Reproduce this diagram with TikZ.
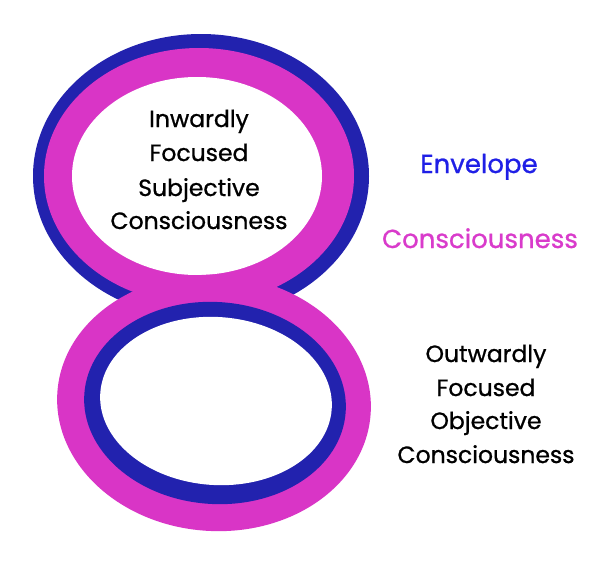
\documentclass[tikz,border=0pt]{standalone}
\usepackage{fontspec}
\setmainfont{Poppins}
\newfontfamily\medfont[FakeBold=0.9]{Poppins}
\definecolor{ringblue}{HTML}{2222AE}
\definecolor{ringmag}{HTML}{D935C6}
\definecolor{txtblue}{HTML}{1F1FE6}
\definecolor{txtmag}{HTML}{D93BCB}
\tikzset{
  lbl/.style={anchor=base, inner sep=0pt, font=\medfont\fontsize{23.5}{28}\selectfont, text=black},
  keyblue/.style={anchor=base, inner sep=0pt, font=\medfont\fontsize{26}{30}\selectfont, text=txtblue},
  keymag/.style={anchor=base, inner sep=0pt, font=\medfont\fontsize{26}{30}\selectfont, text=txtmag}
}
\begin{document}
\begin{tikzpicture}[x=1pt,y=-1pt]
\fill[white] (0,0) rectangle (600,568);
\useasboundingbox (0,0) rectangle (600,568);
% top ring
\fill[ringblue] (201,176) ellipse [x radius=168, y radius=142];
\fill[ringmag] (199,176) ellipse [x radius=155, y radius=128];
\fill[white] (197,176) ellipse [x radius=125, y radius=99];
% bottom ring
\fill[ringmag, rotate around={-4:(214,403)}] (214,403) ellipse [x radius=157, y radius=128];
\fill[ringblue, rotate around={-4:(215,403)}] (215,403) ellipse [x radius=131, y radius=101];
\fill[white, rotate around={-4:(216,401)}] (216,401) ellipse [x radius=116, y radius=84];
% inner text
\node[lbl] (i1) at (199,127) {Inwardly};
\node[lbl] (i2) at (199,161) {Focused};
\node[lbl] (i3) at (199,196) {Subjective};
\node[lbl] (i4) at (199,229) {Consciousness};
% legend
\node[keyblue] (env) at (479,173) {Envelope};
\node[keymag] (con) at (480,248) {Consciousness};
% outward text
\node[lbl] (o1) at (486,362) {Outwardly};
\node[lbl] (o2) at (486,396) {Focused};
\node[lbl] (o3) at (486,429) {Objective};
\node[lbl] (o4) at (486,463) {Consciousness};
\end{tikzpicture}
\end{document}
